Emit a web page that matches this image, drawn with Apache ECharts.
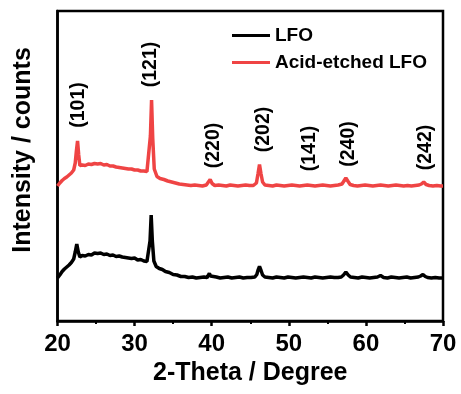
<!DOCTYPE html>
<html>
<head>
<meta charset="utf-8">
<script src="https://cdn.jsdelivr.net/npm/echarts@6/dist/echarts.min.js"></script>
<style>
html,body{margin:0;padding:0;background:#fff;}
#chart{width:461px;height:394px;}
</style>
</head>
<body>
<div id="chart"></div>
<script>
// 2-Theta (degree) and intensity (arbitrary units, offset stacked) for each pattern
const lfoTheta = [20.0,20.3,20.6,20.9,21.2,21.5,21.8,22.1,22.3,22.5,22.7,22.9,23.2,23.6,24.0,24.4,24.8,25.2,25.6,26.0,26.4,26.8,27.2,27.6,28.0,28.4,28.8,29.2,29.6,30.0,30.4,30.8,31.2,31.6,31.85,32.0,32.15,32.3,32.5,32.8,33.2,33.6,34.0,34.5,35.0,35.5,36.0,36.5,37.0,37.5,38.0,38.5,39.0,39.4,39.55,39.7,39.85,40.1,40.6,41.1,41.6,42.1,42.6,43.1,43.6,44.1,44.6,45.1,45.6,45.85,46.0,46.2,46.4,46.6,46.9,47.4,47.9,48.4,48.9,49.4,49.9,50.4,50.9,51.4,51.9,52.4,52.9,53.4,53.9,54.4,54.9,55.4,55.9,56.4,56.8,57.1,57.4,57.7,58.0,58.5,59.0,59.5,60.0,60.5,61.0,61.5,61.9,62.3,62.8,63.3,63.8,64.3,64.8,65.3,65.8,66.3,66.8,67.1,67.4,67.7,68.0,68.5,69.0,69.5,70.0];
const lfoIntensity = [43,46,49.5,52,54,56,58.5,62,69,77,69,64,65.5,65,66.5,66,68,67.5,68,66.5,67,65.5,66,64.5,65,64,63.5,63,62.5,63,61,61.5,60,59.5,61,80,106,80,60,54.5,52.5,51.5,49.5,48.5,46.5,46,44.5,44.5,43.5,44,43,43.5,44,43.5,45,47.5,45,43.5,44,43,43.5,44,43,43.5,44,43,43.5,43.5,44,46.5,50.5,54.5,50.5,46,44,43.5,43,44,43.5,43,44,43.5,43,43.5,44,43.5,43,44,43.5,43,43.5,44,43.5,43.5,44,46,49,46,44,43.5,43,44,43.5,43,43.5,44,45.5,43.5,43,44,43.5,43,43.5,44,43,43.5,44,45,46.5,44.5,43.5,43,43.5,43,43];

const acidTheta = [20.0,20.3,20.6,20.9,21.2,21.5,21.8,22.1,22.3,22.45,22.6,22.75,22.9,23.2,23.6,24.0,24.4,24.8,25.2,25.6,26.0,26.4,26.8,27.2,27.6,28.0,28.4,28.8,29.2,29.6,30.0,30.4,30.8,31.2,31.6,31.85,32.05,32.2,32.35,32.55,32.9,33.3,33.8,34.3,34.8,35.3,35.8,36.3,36.8,37.3,37.8,38.3,38.8,39.3,39.55,39.8,40.05,40.4,40.9,41.4,41.9,42.4,42.9,43.4,43.9,44.4,44.9,45.4,45.8,46.0,46.2,46.4,46.6,46.9,47.4,47.9,48.4,48.9,49.4,49.9,50.4,50.9,51.4,51.9,52.4,52.9,53.4,53.9,54.4,54.9,55.4,55.9,56.4,56.9,57.15,57.4,57.65,57.95,58.4,58.9,59.4,59.9,60.4,60.9,61.4,61.9,62.4,62.9,63.4,63.9,64.4,64.9,65.4,65.9,66.4,66.9,67.2,67.5,67.8,68.2,68.7,69.2,69.7,70.0];
const acidIntensity = [135,138,140.5,142.5,144,146,148,151,158,170,180,166,155.5,156,155.5,157,156.5,157.5,157,157.5,156,156.5,155,155,154,153.5,153,152.5,152,152,151,151,150,150,149.5,151.5,185,221,183,152,144.5,142.5,141.5,140,139,138,137,136.5,136,135.5,136,135.5,135,136,138,141.5,137.5,135.5,136,135.5,135,136,135.5,135,135.5,136,135.5,135.5,138,147,156.5,147,139,136,135.5,135,136,135.5,135,135.5,136,135.5,135,135.5,136,135.5,135,135.5,136,135.5,135,135.5,136,137,140,143,140,136.5,135.5,135,135.5,136,135.5,135,135.5,136,135.5,135,135.5,136,135.5,135,135.5,135,135.5,136,137,139,136.5,135.5,135,135.5,135,135];

// Peak (hkl) annotations: text, 2-Theta, label height
const peakLabels = ['(101)','(121)','(220)','(202)','(141)','(240)','(242)'];
const peakLabelTheta = [22.7,32.1,40.2,46.7,52.7,57.7,67.7];
const peakLabelLevel = [216,256.5,175.5,191.5,172.5,177,173.5];

const seriesNames = ['LFO','Acid-etched LFO'];
const xTicks = [20,30,40,50,60,70];

const FONT = 'Arial, "Liberation Sans", sans-serif';
const pair = (xs, ys) => xs.map((x, i) => [x, ys[i]]);

const chart = echarts.init(document.getElementById('chart'), null, {renderer: 'canvas'});
chart.setOption({
  animation: false,
  backgroundColor: '#fff',
  grid: {left: 57.5, right: 18, top: 11, bottom: 73, show: true, borderColor: '#000', borderWidth: 2.5, backgroundColor: 'transparent'},
  legend: {
    data: seriesNames,
    orient: 'vertical',
    left: 227, top: 21,
    itemWidth: 38, itemHeight: 3, itemGap: 8,
    icon: 'rect',
    textStyle: {fontFamily: FONT, fontWeight: 'bold', fontSize: 19, color: '#000'}
  },
  xAxis: {
    type: 'value', min: xTicks[0], max: xTicks[xTicks.length-1], interval: 10,
    name: '2-Theta / Degree', nameLocation: 'middle', nameGap: 33,
    nameTextStyle: {fontFamily: FONT, fontWeight: 'bold', fontSize: 25, color: '#000'},
    axisLine: {lineStyle: {color: '#000', width: 2.5}},
    axisTick: {show: true, inside: false, length: 5, lineStyle: {color: '#000', width: 2.5}},
    minorTick: {show: true, splitNumber: 2, length: 3, lineStyle: {color: '#000', width: 2}},
    axisLabel: {fontFamily: FONT, fontWeight: 'bold', fontSize: 24, color: '#000', margin: 11},
    splitLine: {show: false}, minorSplitLine: {show: false}
  },
  yAxis: {
    type: 'value', min: 0, max: 310,
    name: 'Intensity / counts', nameLocation: 'middle', nameGap: 22,
    nameTextStyle: {fontFamily: FONT, fontWeight: 'bold', fontSize: 25, color: '#000', padding: [0, 0, 0, 32]},
    axisLine: {show: true, lineStyle: {color: '#000', width: 2.5}},
    axisTick: {show: false}, axisLabel: {show: false}, splitLine: {show: false}
  },
  series: [
    {name: seriesNames[0], type: 'line', data: pair(lfoTheta, lfoIntensity), symbol: 'none', color: '#000', lineStyle: {width: 3.5, color: '#000'}},
    {name: seriesNames[1], type: 'line', data: pair(acidTheta, acidIntensity), symbol: 'none', color: '#ef4444', lineStyle: {width: 3.5, color: '#ef4444'}},
    {name: 'labels', type: 'custom', silent: true,
     data: peakLabels.map((t, i) => [peakLabelTheta[i], peakLabelLevel[i], i]),
     renderItem: (params, api) => {
       const p = api.coord([api.value(0), api.value(1)]);
       return {
         type: 'text', x: p[0], y: p[1], rotation: Math.PI / 2,
         style: {text: peakLabels[api.value(2)], x: 0, y: 0,
                 font: 'bold 19.5px ' + FONT, fill: '#000',
                 align: 'center', verticalAlign: 'middle'}
       };
     }}
  ]
});
</script>
</body>
</html>
